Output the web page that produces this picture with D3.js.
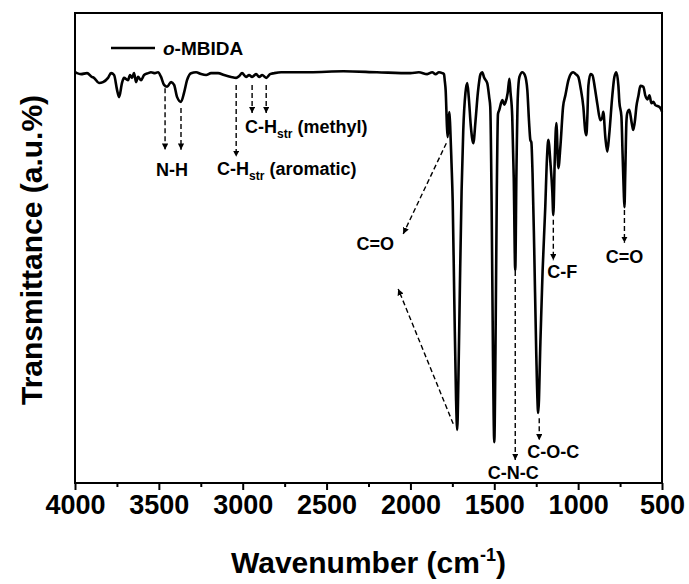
<!DOCTYPE html>
<meta charset="utf-8">
<head>
<script src="https://cdn.jsdelivr.net/npm/d3@7/dist/d3.min.js"></script>
<style>
  body { margin: 0; background: #fff; }
  text { font-family: "Liberation Sans", Arial, sans-serif; font-weight: bold; fill: #000; }
</style>
</head>
<body>
<svg id="chart"></svg>
<script>

// spectrum (cm-1 , transmittance a.u.)
var wavenumbers = [4000,3988,3964,3928,3900,3887,3857,3833,3803,3785,3767,3749,3737,3720,3708,3684,3672,3660,3648,3636,3624,3606,3588,3564,3547,3523,3505,3487,3469,3451,3427,3409,3391,3368,3350,3332,3308,3278,3248,3218,3189,3147,3111,3069,3039,3021,3004,2980,2962,2944,2920,2902,2884,2860,2837,2813,2771,2600,2400,2200,2000,1950,1900,1870,1850,1830,1810,1800,
  1795,1790,1782,1778,1772,1768,1763,1755,1748,1738,1728,1721,1714,1705,1695,1685,1672,1661,1652,1640,1625,1612,1598,1582,1572,1560,1542,1530,1524,1516,1508,1500,1493,1485,1478,1470,1452,1440,1434,1420,1410,1403,1393,1384,1375,1368,1360,1350,1333,1318,1303,1293,1285,1279,1272,1262,1250,1238,1225,1212,1196,1186,1178,1165,1154,1148,1140,1130,1118,1105,1090,1076,1058,1040,1029,1015,999,985,969,958,951,945,939,926,915,900,885,868,856,850,838,826,815,796,784,772,760,754,742,735,728,724,719,712,707,695,680,671,660,653,640,629,611,600,587,575,563,551,540,527,515,504,500];
var transmittance = [87.4,87.2,87.0,87.2,86.4,86.2,85.1,85.3,86.2,87.2,86.8,83.6,82.1,85.1,86.2,85.7,86.8,86.2,87.2,85.3,86.4,85.7,86.8,87.2,87.4,87.2,87.4,86.4,84.7,84.3,85.3,84.7,82.1,81.1,83.0,85.7,87.2,87.4,87.0,86.8,87.2,87.2,86.8,86.4,86.2,86.6,87.2,86.4,86.8,86.4,87.0,86.4,86.8,86.2,87.0,87.2,87.4,87.4,87.6,87.4,87.2,87.4,87.0,87.4,87.0,87.4,87.2,87.0,
  85.5,83.6,75.7,73.6,77,78.9,76,68,60,38,18,11.3,22,42,62,75,83,85.1,82,76,72.3,77,83,87,87.4,86.2,85.1,82,80.0,60,28,8.7,28,62,78.5,79.4,81.5,80.5,80.9,83,86.0,83,78,65,45.3,66,82,86.4,87.4,86.8,83.6,77,73.0,72.5,66,50,28,14.9,30,45,58.7,69,73.0,68,62,57.0,68,76.6,67,72,80,82.5,85.7,87.2,87.4,87.0,86.4,84,80.0,75,74.0,78,84.5,87,86.8,84,80.5,77.2,77.8,79.0,73.6,70.5,74,82.5,86.4,87.4,84.5,81,78,70,62,58.7,66,77,78.7,79.4,76.5,75.1,77.5,80.0,82.5,84.5,84.3,82.5,81.6,82.5,80.8,81.1,80.4,80.2,80.0,79.4,79.0];

var xTicks = [4000,3500,3000,2500,2000,1500,1000,500];
var xMinorTicks = [3750,3250,2750,2250,1750,1250,750];

// band assignments: label, anchor (cm-1, T), text anchor
var bandLabels = ["N-H", "C-H|str| (aromatic)", "C-H|str| (methyl)", "C=O", "C-F", "C=O", "C-O-C", "C-N-C"];
var bandLabelX = [3421, 3153, 2986, 2210, 1184, 724, 1148, 1387];
var bandLabelT = [65.3, 65.5, 74.5, 49.6, 43.6, 46.8, 5.3, 0.9];
var bandLabelAnchor = ["middle", "start", "start", "middle", "start", "middle", "middle", "middle"];

// dashed arrows: from (w1,t1) to (w2,t2)
var arrowW1 = [3463, 3368, 3039, 2944, 2860, 1786, 1745, 1375, 1232, 1148, 724];
var arrowT1 = [84.0, 79.8, 84.7, 84.7, 84.7, 72.3, 12.6, 45.1, 13.8, 56.0, 58.1];
var arrowW2 = [3463, 3368, 3039, 2944, 2860, 2043, 2073, 1375, 1232, 1148, 724];
var arrowT2 = [70.9, 70.9, 69.4, 78.7, 78.7, 53.0, 41.3, 4.9, 9.1, 47.4, 51.1];

var seriesName = "MBIDA";

var width = 689, height = 584;
var margin = {top: 13, right: 27, bottom: 101, left: 75};
var plotW = width - margin.left - margin.right;
var plotH = height - margin.top - margin.bottom;

var svg = d3.select("#chart").attr("width", width).attr("height", height);

svg.append("defs").append("marker")
  .attr("id", "head")
  .attr("viewBox", "0 0 10 10")
  .attr("refX", 10).attr("refY", 5)
  .attr("markerWidth", 4.5).attr("markerHeight", 4.5)
  .attr("markerUnits", "strokeWidth")
  .attr("orient", "auto")
  .append("path").attr("d", "M0,0 L10,5 L0,10 Z").attr("fill", "#000");

var g = svg.append("g").attr("transform", "translate(" + margin.left + "," + margin.top + ")");

var x = d3.scaleLinear().domain([4000, 500]).range([0, plotW]);
var y = d3.scaleLinear().domain([0, 100]).range([plotH, 0]);

var data = wavenumbers.map(function(w, i){ return {w: w, t: transmittance[i]}; });

// x axis, major and minor ticks
var xAxis = g.append("g").attr("transform", "translate(0," + plotH + ")")
  .call(d3.axisBottom(x).tickValues(xTicks).tickSize(7).tickPadding(5).tickFormat(d3.format("d")));
xAxis.select(".domain").remove();
xAxis.selectAll("line").attr("stroke-width", 2);
xAxis.selectAll("text").style("font-size", "27px").style("font-family", "Liberation Sans, Arial, sans-serif").style("font-weight", "bold");

var xMinor = g.append("g").attr("transform", "translate(0," + plotH + ")")
  .call(d3.axisBottom(x).tickValues(xMinorTicks).tickSize(4).tickFormat(""));
xMinor.select(".domain").remove();
xMinor.selectAll("line").attr("stroke-width", 2);

// spectrum
var line = d3.line()
  .x(function(d){ return x(d.w); })
  .y(function(d){ return y(d.t); })
  .curve(d3.curveMonotoneX);

g.append("path").datum(data)
  .attr("d", line)
  .attr("fill", "none")
  .attr("stroke", "#000")
  .attr("stroke-width", 2.6)
  .attr("stroke-linejoin", "round");

// frame
g.append("rect").attr("width", plotW).attr("height", plotH)
  .attr("fill", "none").attr("stroke", "#000").attr("stroke-width", 2);

// arrows
arrowW1.forEach(function(w, i){
  g.append("line")
    .attr("x1", x(w)).attr("y1", y(arrowT1[i]))
    .attr("x2", x(arrowW2[i])).attr("y2", y(arrowT2[i]))
    .attr("stroke", "#000").attr("stroke-width", 1.4)
    .attr("stroke-dasharray", "5,3")
    .attr("marker-end", "url(#head)");
});

// band labels, "|" marks the subscript
bandLabels.forEach(function(lbl, i){
  var t = g.append("text")
    .attr("x", x(bandLabelX[i])).attr("y", y(bandLabelT[i]))
    .attr("text-anchor", bandLabelAnchor[i])
    .style("font-size", "18px");
  var parts = lbl.split("|");
  t.append("tspan").text(parts[0]);
  if (parts.length > 1) {
    t.append("tspan").attr("dy", 5).style("font-size", "12px").text(parts[1]);
    t.append("tspan").attr("dy", -5).text(parts[2]);
  }
});

// legend
g.append("line").attr("x1", 36).attr("x2", 80).attr("y1", 35).attr("y2", 35)
  .attr("stroke", "#000").attr("stroke-width", 2.6);
var leg = g.append("text").attr("x", 88).attr("y", 42).style("font-size", "19px");
leg.append("tspan").style("font-style", "italic").text("o");
leg.append("tspan").text("-" + seriesName);

// axis titles
var xt = svg.append("text")
  .attr("x", margin.left + plotW / 2).attr("y", 573)
  .attr("text-anchor", "middle").style("font-size", "30px");
xt.append("tspan").text("Wavenumber (cm");
xt.append("tspan").attr("dy", -12).style("font-size", "18px").text("-1");
xt.append("tspan").attr("dy", 12).text(")");

svg.append("text")
  .attr("transform", "translate(42," + (margin.top + plotH / 2 + 2) + ") rotate(-90)")
  .attr("text-anchor", "middle").style("font-size", "30px")
  .text("Transmittance (a.u.%)");

</script>
</body>
